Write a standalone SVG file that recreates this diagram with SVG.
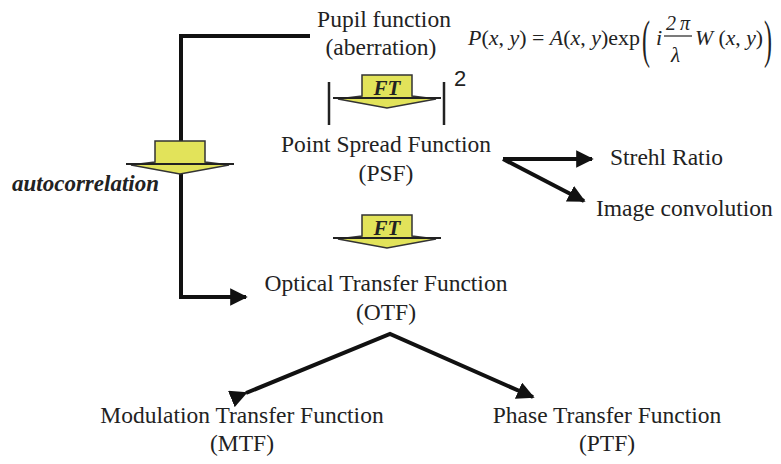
<svg xmlns="http://www.w3.org/2000/svg" width="781" height="464" viewBox="0 0 781 464">
<style>
.t{font-family:"Liberation Serif",serif;font-size:23.5px;fill:#222;text-anchor:middle}
.s{font-family:"Liberation Serif",serif;font-size:23.5px;fill:#222}
.ti{font-family:"Liberation Serif",serif;font-style:italic;font-size:22px;fill:#222}
.n{font-style:normal}
.p{font-family:"Liberation Serif",serif;font-size:24px;fill:#222}
.c{stroke:#111;stroke-width:4;fill:none}
.y{fill:#e2e35a;stroke:#333;stroke-width:1.5}
.w{stroke:#222;stroke-width:2}
.ft{font-family:"Liberation Serif",serif;font-weight:bold;font-style:italic;font-size:21px;text-anchor:middle;fill:#222}
</style>
<defs>
<marker id="ah" viewBox="0 0 10 10" refX="9" refY="5" markerWidth="4.4" markerHeight="4.4" orient="auto" markerUnits="strokeWidth">
<path d="M0,0 L10,5 L0,10 z" fill="#111"/>
</marker>
<g id="fta">
<path class="y" d="M-25,0 H25 V21 L49,24 L0,33 L-49,24 L-25,21 Z"/>
<line class="w" x1="-54" y1="23" x2="54" y2="23"/>
</g>
</defs>
<rect width="781" height="464" fill="#fff"/>
<g id="connectors">
<polyline class="c" points="310,36 181,36 181,297 246,297" marker-end="url(#ah)"/>
<line class="c" x1="503" y1="159" x2="592" y2="159" marker-end="url(#ah)"/>
<line class="c" x1="503" y1="159" x2="584" y2="201" marker-end="url(#ah)"/>
<polyline class="c" points="246,393 390,334 533,397" marker-start="url(#ah)" marker-end="url(#ah)"/>
</g>
<g id="pupil">
<text class="t" x="384" y="27">Pupil function</text>
<text class="t" x="381" y="55">(aberration)</text>
</g>
<g id="formula">
<text class="ti" x="468" y="45" textLength="172" lengthAdjust="spacingAndGlyphs">P<tspan class="n">(</tspan>x<tspan class="n">, </tspan>y<tspan class="n">) = </tspan>A<tspan class="n">(</tspan>x<tspan class="n">, </tspan>y<tspan class="n">)exp</tspan></text>
<text class="p" transform="translate(642,57) scale(1,2.2)">(</text>
<text class="ti" x="656" y="45">i</text>
<text class="ti" x="666" y="30" style="font-size:20px" textLength="24">2π</text>
<line x1="664" y1="36" x2="692" y2="36" stroke="#222" stroke-width="1.2"/>
<text class="ti" x="671" y="62" style="font-size:21px">λ</text>
<text class="ti" x="695" y="45" textLength="68" lengthAdjust="spacingAndGlyphs">W<tspan class="n"> (</tspan>x<tspan class="n">, </tspan>y<tspan class="n">)</tspan></text>
<text class="p" transform="translate(764,57) scale(1,2.2)">)</text>
</g>
<g id="ft1">
<use href="#fta" x="387" y="75"/>
<text class="ft" x="387" y="95">FT</text>
<line x1="329" y1="82" x2="329" y2="125" stroke="#222" stroke-width="2.5"/>
<line x1="444" y1="82" x2="444" y2="125" stroke="#222" stroke-width="2.5"/>
<text x="454" y="86" style="font-family:'Liberation Sans',sans-serif;font-size:22px;fill:#222">2</text>
</g>
<g id="autocorr">
<use href="#fta" x="180" y="141"/>
<text x="12" y="191" style="font-family:'Liberation Serif',serif;font-weight:bold;font-style:italic;font-size:23px;fill:#222">autocorrelation</text>
</g>
<g id="psf">
<text class="t" x="386" y="152">Point Spread Function</text>
<text class="t" x="386" y="181">(PSF)</text>
</g>
<g id="strehl"><text class="s" x="610" y="165">Strehl Ratio</text></g>
<g id="imgconv"><text class="s" x="596" y="216">Image convolution</text></g>
<g id="ft2">
<use href="#fta" x="387" y="215"/>
<text class="ft" x="387" y="235">FT</text>
</g>
<g id="otf">
<text class="t" x="386" y="291">Optical Transfer Function</text>
<text class="t" x="386" y="320">(OTF)</text>
</g>
<g id="mtf">
<text class="t" x="242" y="423">Modulation Transfer Function</text>
<text class="t" x="242" y="451">(MTF)</text>
</g>
<g id="ptf">
<text class="t" x="607" y="423">Phase Transfer Function</text>
<text class="t" x="607" y="451">(PTF)</text>
</g>
</svg>
